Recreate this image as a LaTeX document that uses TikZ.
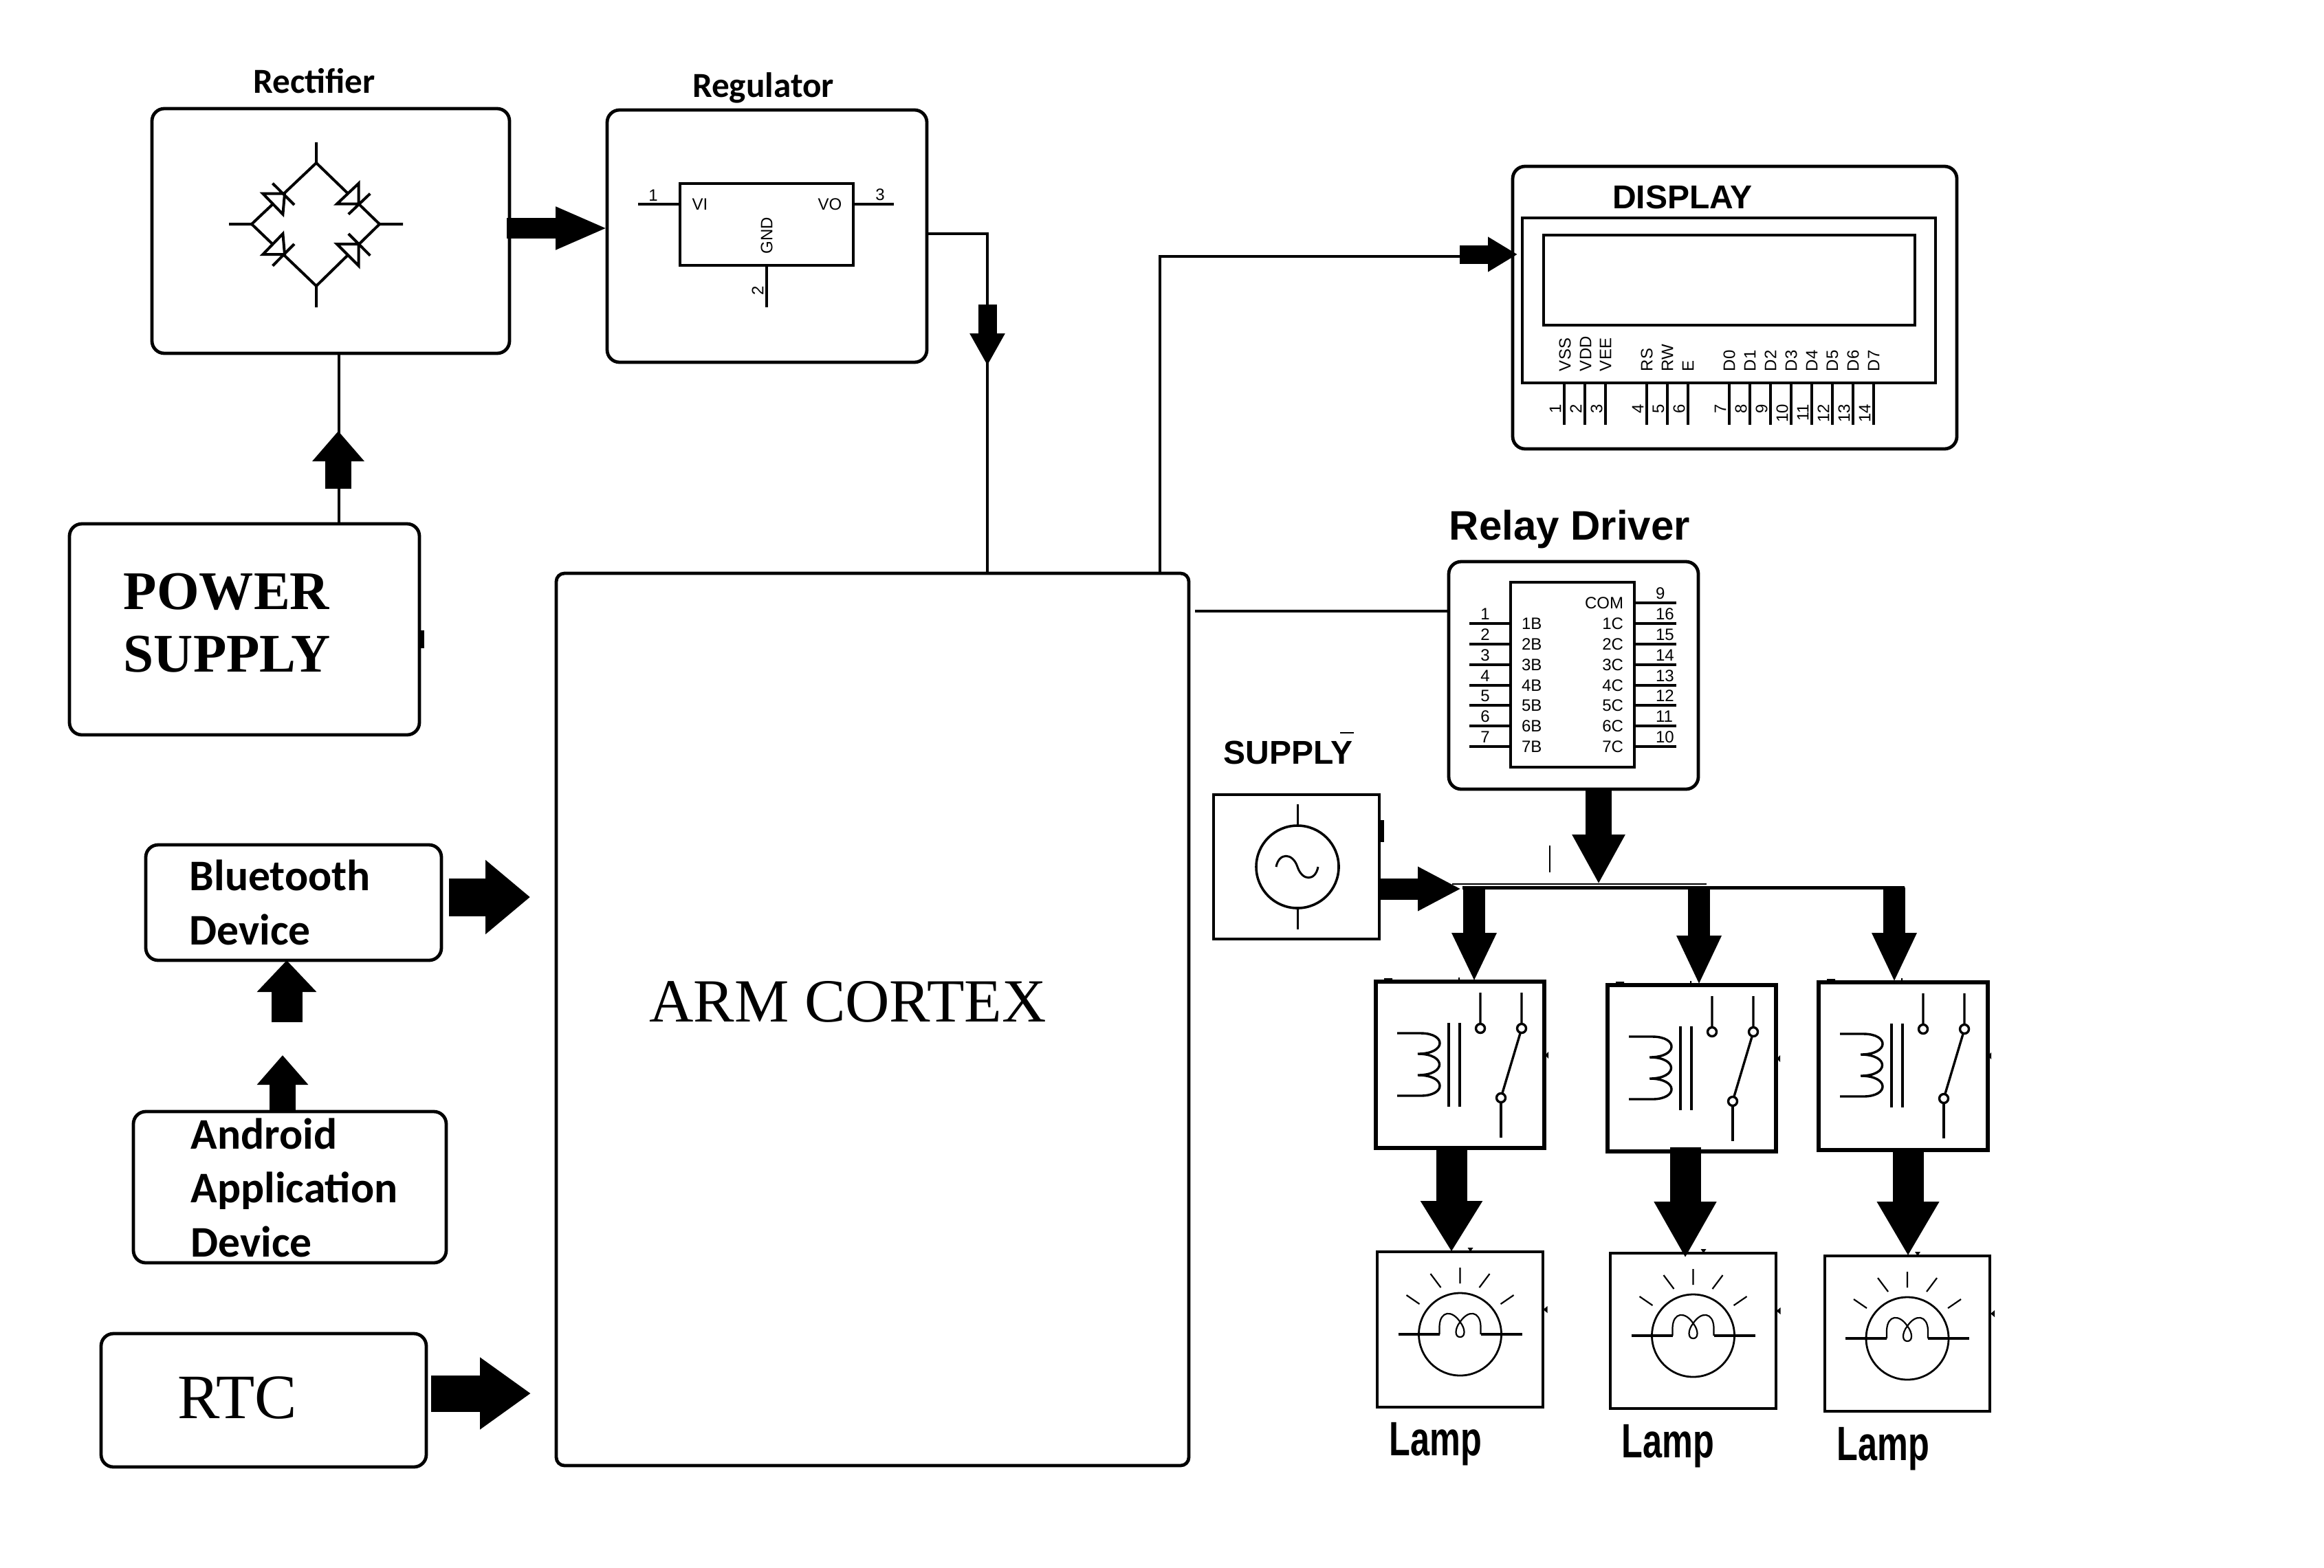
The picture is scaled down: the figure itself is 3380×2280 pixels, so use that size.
\documentclass[tikz,border=0pt]{standalone}
\usepackage{fontspec}
\setmainfont{Liberation Serif}
\setsansfont{Liberation Sans}
\newfontfamily\calfont{Carlito}
\usetikzlibrary{arrows.meta}

\tikzset{
  sz/.style 2 args={minimum width=#1*0.25pt,minimum height=#2*0.25pt,inner sep=0pt,outer sep=0pt},
  rndbox/.style={draw,line width=1.2pt,rounded corners=4.5pt},
  sqbox/.style={draw,line width=1.45pt},
  wire/.style={line width=1pt},
  thinpin/.style={line width=.9pt},
  fat/.style n args={3}{line width=#1,-{Triangle[length=#3,width=#2]}},
  pinfont/.style={font=\sffamily\fontsize{6}{7}\selectfont,inner sep=0pt,outer sep=0pt},
  calbold/.style={font=\calfont\bfseries\fontsize{12.8}{14}\selectfont,inner sep=0pt},
  devfont/.style={font=\calfont\bfseries\fontsize{15.9}{19.6}\selectfont,inner sep=0pt,align=left},
  armbold/.style={font=\sffamily\bfseries\fontsize{12}{14}\selectfont,inner sep=0pt},
  serifbig/.style={font=\fontsize{22.3}{25}\selectfont,inner sep=0pt},
  lampfont/.style={font=\sffamily\bfseries\fontsize{17.5}{20}\selectfont,inner sep=0pt}
}

% relay symbol, measured from the top left corner of its box
\newcommand{\relaysym}[1]{%
  \begin{scope}[shift={(#1.north west)},line width=.85pt]
    \draw (31,75) -- (65,75) .. controls (103,75) and (103,105) .. (61,105) .. controls (103,105) and (103,136) .. (61,136) .. controls (103,136) and (103,166) .. (65,166) -- (31,166);
    \draw (106,60) -- (106,182) (122,60) -- (122,182);
    \draw (152,16) -- (152,61) (152,68) circle (6.5);
    \draw (212,16) -- (212,61) (212,68) circle (6.5);
    \draw (210,75) -- (184,162) (182,169) circle (6.5);
    \draw (182,176) -- (182,227);
    \fill (246,107) -- (251,102) -- (251,112) -- cycle;
    \fill (12,-5) rectangle (24,-2) (120,-6) rectangle (122,0);
  \end{scope}}

% lamp symbol, measured from the bulb centre
\newcommand{\lampsym}[1]{%
  \begin{scope}[shift={(#1.north)},shift={(0,120)},line width=.7pt]
    \draw (0,0) circle (60);
    \draw[line width=.9pt] (-90,0) -- (-30,0) (30,0) -- (90,0);
    \draw[line width=.55pt] (-30,0) -- (-30,-12) .. controls (-29,-34) and (-12,-36) .. (0,-18) .. controls (8,-8) and (8,4) .. (0,4) .. controls (-8,4) and (-8,-8) .. (0,-18) .. controls (12,-36) and (29,-34) .. (30,-12) -- (30,0);
    \draw[line width=.55pt] (0,-97) -- (0,-74) (-43,-88) -- (-28,-68) (43,-88) -- (28,-68) (-78,-57) -- (-59,-44) (78,-57) -- (59,-44);
    \fill (121,-36) -- (127,-41) -- (127,-31) -- cycle;
    \fill (15,-120) -- (11,-126) -- (19,-126) -- cycle;
  \end{scope}}

\begin{document}
\begin{tikzpicture}[x=0.25pt,y=0.25pt,yscale=-1,xscale=1]
\useasboundingbox (0,0) rectangle (3380,2280);

%Shape: blocks on the left
\node (rect) [rndbox,sz={520}{356}] at (481,336) {};
\node (reg) [rndbox,sz={465}{367}] at (1115.5,343.5) {};
\node (pwr) [rndbox,sz={509}{307}] at (355.5,915.5) {};
\node (arm) [rndbox,rounded corners=3pt,sz={920}{1298}] at (1269,1483) {};
\node (bt) [rndbox,sz={430}{168}] at (427,1313) {};
\node (andr) [rndbox,sz={455}{220}] at (421.5,1727) {};
\node (rtc) [rndbox,sz={473}{194}] at (383.5,2037) {};

%Shape: display
\node (disp) [rndbox,sz={646}{411}] at (2523,447.5) {};
\node (lcd) [draw,line width=1pt,sz={601}{240}] at (2514.5,437) {};
\node (scr) [draw,line width=.8pt,sz={540}{131}] at (2515,407.5) {};

%Shape: relay driver and supply
\node (drv) [rndbox,sz={363}{331}] at (2288.5,982.5) {};
\node (drvic) [draw,line width=1pt,sz={180}{269}] at (2287,981.5) {};
\node (sup) [draw,line width=.9pt,sz={241}{210}] at (1885.5,1261) {};
\node (src) [draw,circle,line width=.9pt,sz={120}{120}] at (1887,1261) {};

%Shape: relays and lamps
\node (relay1) [sqbox,sz={245}{242}] at (2123.5,1549) {};
\node (relay2) [sqbox,sz={245}{242}] at (2460.5,1554) {};
\node (relay3) [sqbox,sz={246}{244}] at (2768,1551) {};
\node (lamp1) [draw,line width=.9pt,sz={241}{226}] at (2123.5,1934) {};
\node (lamp2) [draw,line width=.9pt,sz={241}{226}] at (2462.5,1936) {};
\node (lamp3) [draw,line width=.9pt,sz={240}{226}] at (2774,1940) {};

%Shape: bridge rectifier
\draw[wire] (460,207) -- (460,237) -- (366,326) -- (333,326);
\draw[wire] (460,237) -- (552,326) -- (586,326);
\draw[wire] (460,447) -- (460,416) -- (366,326);
\draw[wire] (460,416) -- (552,326);
\foreach \tx/\ty/\ux/\uy/\vx/\vy/\ax/\ay/\bx/\by in {382.4/281.7/414/281.7/411.4/311.7/396.5/266.7/428/298,
  490/296.7/521.7/296.7/521.7/266.7/506.8/311.7/538.3/281.7,
  382.4/370/414/370/411.4/340/396.5/386.7/428/355,
  490/355/521.7/355/521.7/386.7/506.8/340/538.3/371.7}
  \draw[wire,fill=white] (\tx,\ty) -- (\ux,\uy) -- (\vx,\vy) -- cycle (\ax,\ay) -- (\bx,\by);

%Shape: regulator chip
\node (regic) [draw,line width=1pt,sz={252}{119}] at (1115,326.5) {};
\draw[wire] (928,297) -- (regic.west |- 928,297);
\draw[wire] (regic.east |- 1300,297) -- (1300,297);
\draw[wire,line width=.8pt] (regic.south) -- (1115,447);
\node (regp1) [pinfont] at (950,284) {1};
\node (regp3) [pinfont] at (1280,283) {3};
\node (regvi) [pinfont] at (1018,297) {VI};
\node (regvo) [pinfont] at (1207,297) {VO};
\node (reggnd) [pinfont,rotate=90] at (1115,343) {GND};
\node (regp2) [pinfont,rotate=90] at (1102,423) {2};

%Shape: source symbol
\draw[line width=.75pt] (1887,1170) -- (src.north) (src.south) -- (1887,1352);
\draw[line width=.75pt] (1856,1261) .. controls (1860,1240) and (1880,1240) .. (1887,1261) .. controls (1894,1282) and (1913,1282) .. (1917,1261);

\relaysym{relay1}
\relaysym{relay2}
\relaysym{relay3}
\lampsym{lamp1}
\lampsym{lamp2}
\lampsym{lamp3}

%Shape: display pins
\foreach \n/\px in {1/2275,2/2305,3/2335,4/2395,5/2425,6/2455,7/2515,8/2545,9/2575,10/2605,11/2635,12/2665,13/2695,14/2725}{
  \draw[thinpin] (\px,557) -- (\px,618);
  \node (dnum\n) [pinfont,rotate=90,anchor=east] at (\px-13,588) {\n};
}
\foreach \n/\px in {VSS/2276,VDD/2306,VEE/2335,RS/2395,RW/2425,E/2455,D0/2515,D1/2545,D2/2575,D3/2605,D4/2635,D5/2665,D6/2695,D7/2725}
  \node (d\n) [pinfont,rotate=90,anchor=west] at (\px,540) {\n};

%Shape: driver pins
\foreach \i/\j/\yy in {1/16/907,2/15/937,3/14/967,4/13/997,5/12/1026,6/11/1056,7/10/1086}{
  \draw[thinpin] (2137,\yy) -- (drvic.west |- 2137,\yy);
  \draw[thinpin] (drvic.east |- 2438,\yy) -- (2438,\yy);
  \node (lnum\i) [pinfont] at (2160,\yy-14) {\i};
  \node (rnum\j) [pinfont,anchor=west] at (2408,\yy-14) {\j};
  \node (ilab\i) [pinfont,anchor=west] at (2213,\yy) {\i B};
  \node (olab\i) [pinfont,anchor=east] at (2361,\yy) {\i C};
}
\draw[thinpin] (drvic.east |- 2438,877) -- (2438,877);
\node (rnum9) [pinfont,anchor=west] at (2408,863) {9};
\node (ocom) [pinfont,anchor=east] at (2361,877) {COM};

%Connector: power path
\coordinate (pwrtail) at (492,711);
\coordinate (pwrtip) at (492,627);
\coordinate (regin) at (884,332);
\coordinate (regtap) at (1436,340);
\coordinate (regtail) at (1436,443);
\coordinate (regtip) at (1436,532);
\draw[wire] (493,762) -- (493,514);
\draw[fat={9.5pt}{18.25pt}{11pt}] (pwrtail) -- (pwrtip);
\draw[fat={7.5pt}{14.25pt}{19pt},shorten <=-1pt] (rect.east |- regin) -- (regin);
\draw[wire] (reg.east |- regtap) -- (regtap) -- (regtap |- arm.north);
\draw[fat={6.75pt}{12pt}{11.75pt}] (regtail) -- (regtip);

%Connector: inputs of the controller
\coordinate (andrtip) at (411,1535);
\coordinate (bttail) at (417,1487);
\coordinate (btouttail) at (653,1305);
\coordinate (btouttip) at (771,1305);
\coordinate (rtctail) at (627,2027);
\coordinate (rtctip) at (772,2027);
\draw[fat={9.5pt}{18pt}{10.75pt}] (andrtip |- andr.north) -- (andrtip);
\draw[fat={11.25pt}{21pt}{11.5pt}] (bttail) -- (bttail |- bt.south);
\draw[fat={13.75pt}{26pt}{16.25pt}] (btouttail) -- (btouttip);
\draw[fat={13.25pt}{25pt}{18.5pt}] (rtctail) -- (rtctip);

%Connector: display and driver
\coordinate (disptap) at (1687,373);
\coordinate (disptail) at (2123,370);
\coordinate (disptip) at (2207,370);
\coordinate (drvtap) at (1738,889);
\draw[wire] (disptap |- arm.north) -- (disptap) -- (disptail |- disptap);
\draw[fat={6.75pt}{12pt}{10.75pt}] (disptail) -- (disptip);
\draw[wire] (drvtap) -- (drvtap -| drv.west);

%Connector: bus and relays
\coordinate (busl) at (2127,1291);
\coordinate (busr) at (2770,1291);
\coordinate (bustip) at (2325,1286);
\coordinate (suptip) at (2125,1293);
\coordinate (d1) at (2144,1291);
\coordinate (d2) at (2471,1291);
\coordinate (d3) at (2755,1291);
\coordinate (c1) at (2111,1670);
\coordinate (c2) at (2451,1669);
\coordinate (c3) at (2775,1670);
\draw[line width=1.25pt] (busl) -- (busr);
\draw[line width=.3pt] (2112,1286) -- (2482,1286);
\draw[line width=.3pt] (2254,1230) -- (2254,1269);
\draw[line width=.3pt] (1949,1066) -- (1969,1066);
\draw[fat={9.5pt}{18pt}{18pt}] (bustip |- drv.south) -- (bustip);
\draw[fat={7.75pt}{15pt}{15.75pt}] (sup.east |- suptip) -- (suptip);
\draw[fat={8pt}{15pt}{17.75pt}] (d1) -- (d1 |- relay1.north);
\draw[fat={8pt}{15pt}{18pt}] (d2) -- (d2 |- relay2.north);
\draw[fat={8pt}{15pt}{18pt}] (d3) -- (d3 |- relay3.north);
\draw[fat={11.25pt}{21.25pt}{18.5pt}] (c1) -- (c1 |- lamp1.north);
\draw[fat={11.25pt}{21.25pt}{20.5pt},shorten >=-1.75pt] (c2) -- (c2 |- lamp2.north);
\draw[fat={11.25pt}{21.25pt}{19.75pt}] (c3) -- (c3 |- lamp3.north);
\fill (609,917) rectangle (617,943);
\fill (2008,1193) rectangle (2013,1225);

% Text Node
\node (rectlab) [calbold,anchor=base] at (457,135) {Rectifier};
% Text Node
\node (reglab) [calbold,anchor=base] at (1110,141) {Regulator};
% Text Node
\node (pwrlab) [font=\bfseries\fontsize{19.8}{22.75}\selectfont,inner sep=0pt,align=left,anchor=base west] at (179,977) {POWER\\SUPPLY};
% Text Node
\node (btlab) [devfont,anchor=base west] at (275,1374) {Bluetooth\\Device};
% Text Node
\node (andrlab) [devfont,anchor=base west] at (277,1828) {Android\\Application\\Device};
% Text Node
\node (armlab) [serifbig,anchor=base] at (1233,1486) {ARM CORTEX};
% Text Node
\node (rtclab) [font=\fontsize{23}{25}\selectfont,inner sep=0pt,anchor=base west] at (258,2063) {RTC};
% Text Node
\node (displab) [armbold,anchor=base] at (2447,303) {DISPLAY};
% Text Node
\node (drvlab) [armbold,font=\sffamily\bfseries\fontsize{15}{17}\selectfont,anchor=base west] at (2107,785) {Relay Driver};
% Text Node
\node (suplab) [armbold,anchor=base west] at (1779,1111) {SUPPLY};
% Text Node
\node (lamplab1) [lampfont,anchor=base west] at (2020,2117) {\scalebox{0.72}[1]{Lamp}};
% Text Node
\node (lamplab2) [lampfont,anchor=base west] at (2358,2120) {\scalebox{0.72}[1]{Lamp}};
% Text Node
\node (lamplab3) [lampfont,anchor=base west] at (2671,2124) {\scalebox{0.72}[1]{Lamp}};
\end{tikzpicture}
\end{document}
